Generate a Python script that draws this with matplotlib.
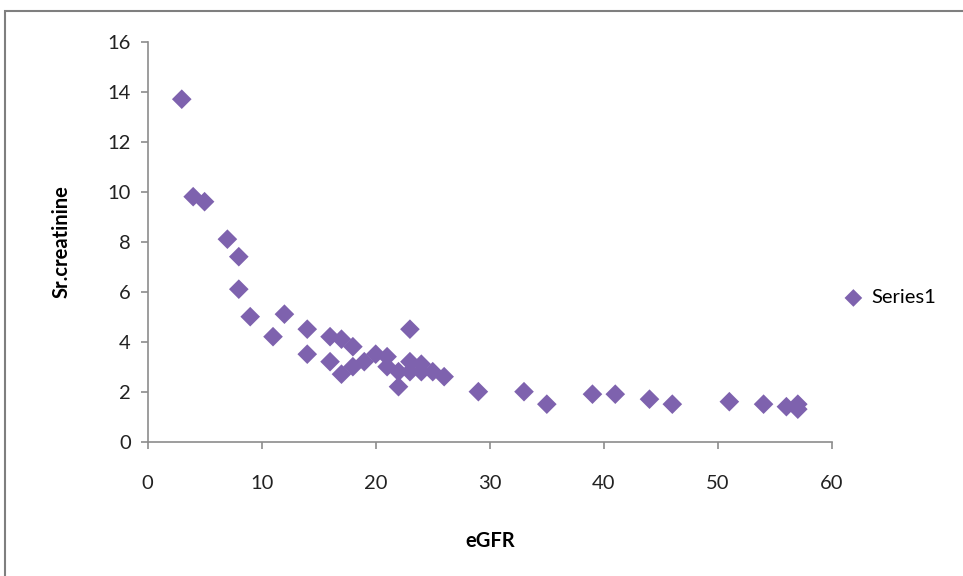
import matplotlib.pyplot as plt
from matplotlib.patches import Rectangle

# eGFR vs serum creatinine
egfr = [3, 4, 5, 7, 8, 8, 9, 11, 12, 14, 14, 16, 16, 17, 17, 18, 18, 19, 20, 21,
        21, 22, 22, 23, 23, 23, 24, 24, 25, 26, 29, 33, 35, 39, 41, 44, 46, 51,
        54, 56, 57, 57]
creat = [13.7, 9.8, 9.6, 8.1, 7.4, 6.1, 5.0, 4.2, 5.1, 4.5, 3.5, 4.2, 3.2, 4.1,
         2.7, 3.8, 3.0, 3.2, 3.5, 3.4, 3.0, 2.2, 2.8, 4.5, 3.2, 2.8, 3.1, 2.8,
         2.8, 2.6, 2.0, 2.0, 1.5, 1.9, 1.9, 1.7, 1.5, 1.6, 1.5, 1.4, 1.5, 1.3]

plt.rcParams.update({'font.family': ['Lato', 'DejaVu Sans'], 'font.size': 14.5})

fig = plt.figure(figsize=(9.63, 5.76), dpi=100)
ax = fig.add_axes([0.1532, 0.2332, 0.7108, 0.6944])

ax.scatter(egfr, creat, marker='D', s=100, color='#7E62AE', edgecolors='none',
           label='Series1', zorder=3)

ax.set_xlim(0, 60)
ax.set_ylim(0, 16)
ax.set_xticks(range(0, 61, 10))
ax.set_yticks(range(0, 17, 2))
for s in ['top', 'right']:
    ax.spines[s].set_visible(False)
for s in ['left', 'bottom']:
    ax.spines[s].set_color('#8c8c8c')
    ax.spines[s].set_linewidth(1.2)
ax.tick_params(direction='out', length=5, color='#8c8c8c', width=1.2,
               labelcolor='#222222', pad=7)
ax.tick_params(axis='x', pad=19)

ax.set_xlabel('eGFR', fontweight='bold', labelpad=28)
ax.set_ylabel('Sr.creatinine', fontweight='bold', labelpad=26)

ax.legend(loc='center left', bbox_to_anchor=(0.99, 0.36), frameon=False,
          handletextpad=-0.1, borderaxespad=0.0, markerscale=0.9)

# outer chart border
fig.add_artist(Rectangle((5 / 963, -0.1), 1.2, 1 - 11 / 576 + 0.1,
                         transform=fig.transFigure, fill=False,
                         edgecolor='#7f7f7f', linewidth=1.5))

fig.savefig('out.png', dpi=100)
